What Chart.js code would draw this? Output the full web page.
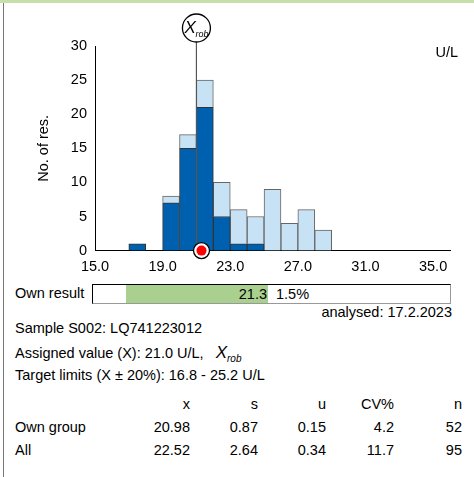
<!DOCTYPE html>
<html><head><meta charset="utf-8">
<script src="https://cdn.jsdelivr.net/npm/chart.js@4"></script>
<style>
body{margin:0;width:474px;height:477px;position:relative;font-family:"Liberation Sans",Arial,sans-serif;font-size:14.5px;color:#000;background:#fff;overflow:hidden}
#top{position:absolute;left:0;top:0;width:474px;height:3px;background:#c8e0a8}
#left{position:absolute;left:3px;top:3px;width:1px;height:474px;background:#777}
#wrap{position:absolute;left:0;top:0;width:474px;height:283px}
.t{position:absolute;white-space:nowrap}
.r{text-align:right}
#box{position:absolute;left:92px;top:284px;width:357px;height:18px;border:1px solid #000;border-right-color:#999;border-bottom-color:#999}
#green{position:absolute;left:33px;top:0;width:142px;height:18px;background:#a9d08e}
</style></head><body>
<div id="top"></div><div id="left"></div>
<div id="wrap"><canvas id="c" width="474" height="283" style="width:474px;height:283px"></canvas></div>
<div class="t" style="left:15px;top:285px">Own result</div>
<div id="box"><div id="green"></div>
<div class="t r" style="right:183px;top:1px;width:60px">21.3</div>
<div class="t" style="left:183px;top:1px">1.5%</div></div>
<div class="t r" style="right:22px;top:304px">analysed: 17.2.2023</div>
<div class="t" style="left:15px;top:320px">Sample S002: LQ741223012</div>
<div class="t" style="left:15px;top:343px">Assigned value (X): 21.0 U/L, &nbsp;&nbsp;<i style="font-size:17px">X</i><i style="font-size:10px;position:relative;top:4px">rob</i></div>
<div class="t" style="left:15px;top:367px">Target limits (X ± 20%): 16.8 - 25.2 U/L</div>
<div id="tbl"></div>
<script>
const binCenters = [17.5, 18.5, 19.5, 20.5, 21.5, 22.5, 23.5, 24.5, 25.5, 26.5, 27.5, 28.5];
const ownGroup   = [1, 0, 7, 15, 21, 5, 1, 1, 0, 0, 0, 0];
const allResults = [1, 0, 8, 17, 25, 10, 6, 5, 9, 4, 6, 3];
const xTicks = [15, 19, 23, 27, 31, 35];
const assignedValue = 21.0;
const ownResult = 21.3;
const statCols = ['x', 's', 'u', 'CV%', 'n'];
const statRows = [
  ['Own group', '20.98', '0.87', '0.15', '4.2', '52'],
  ['All', '22.52', '2.64', '0.34', '11.7', '95']
];

// stats table
const colRight = [190, 258, 326, 394, 462];
let html = '';
statCols.forEach((c, i) => html += `<div class="t r" style="right:${474 - colRight[i]}px;top:396px">${c}</div>`);
statRows.forEach((row, j) => {
  const top = 419 + j * 23;
  html += `<div class="t" style="left:15px;top:${top}px">${row[0]}</div>`;
  row.slice(1).forEach((v, i) => html += `<div class="t r" style="right:${474 - colRight[i]}px;top:${top}px">${v}</div>`);
});
document.getElementById('tbl').innerHTML = html;

const markers = {
  id: 'markers',
  afterDatasetsDraw(chart) {
    const ctx = chart.ctx, xs = chart.scales.x, ys = chart.scales.y;
    const ax = xs.getPixelForValue(assignedValue);
    const y0 = ys.getPixelForValue(0);
    ctx.save();
    ctx.strokeStyle = '#555'; ctx.lineWidth = 1.2;
    ctx.beginPath(); ctx.moveTo(ax, 42); ctx.lineTo(ax, y0); ctx.stroke();
    ctx.fillStyle = '#fff'; ctx.strokeStyle = '#000'; ctx.lineWidth = 1.3;
    ctx.beginPath(); ctx.arc(ax, 28, 14, 0, 2 * Math.PI); ctx.fill(); ctx.stroke();
    ctx.fillStyle = '#000';
    ctx.font = 'italic 17px "Liberation Sans", Arial';
    ctx.textAlign = 'left'; ctx.textBaseline = 'alphabetic';
    ctx.fillText('X', ax - 12, 33);
    ctx.font = 'italic 9px "Liberation Sans", Arial';
    ctx.fillText('rob', ax - 1, 37);
    const ox = xs.getPixelForValue(ownResult);
    ctx.fillStyle = '#fff';
    ctx.beginPath(); ctx.arc(ox, y0, 8, 0, 2 * Math.PI); ctx.fill(); ctx.stroke();
    ctx.fillStyle = '#f00';
    ctx.beginPath(); ctx.arc(ox, y0, 5, 0, 2 * Math.PI); ctx.fill();
    ctx.fillStyle = '#000';
    ctx.font = '14.5px "Liberation Sans", Arial';
    ctx.textAlign = 'right';
    ctx.fillText('U/L', 458, 57);
    ctx.restore();
  }
};

new Chart(document.getElementById('c'), {
  type: 'bar',
  data: {
    datasets: [{
      label: 'Own group',
      data: binCenters.map((x, i) => ({x, y: ownGroup[i]})),
      backgroundColor: '#0060b0', borderColor: '#333', borderWidth: 1,
      barPercentage: 1, categoryPercentage: 1
    }, {
      label: 'All',
      data: binCenters.map((x, i) => ({x, y: allResults[i] - ownGroup[i]})),
      backgroundColor: '#c7e2f4', borderColor: '#666', borderWidth: 1,
      barPercentage: 1, categoryPercentage: 1
    }]
  },
  options: {
    responsive: false, animation: false,
    devicePixelRatio: 1,
    layout: {padding: {left: 35, right: 24, top: 46, bottom: 4}},
    plugins: {legend: {display: false}, tooltip: {enabled: false}},
    scales: {
      x: {
        type: 'linear', stacked: true, min: 15, max: 36, offset: false,
        grid: {display: false, drawTicks: true, tickLength: 5, tickColor: '#000'},
        border: {color: '#000'},
        afterBuildTicks: s => { s.ticks = xTicks.map(v => ({value: v})); },
        ticks: {color: '#000', font: {size: 14.5, family: '"Liberation Sans", Arial'}, maxRotation: 0,
          callback: v => v.toFixed(1)}
      },
      y: {
        stacked: true, min: 0, max: 30,
        afterFit: s => { s.width = 60; },
        grid: {display: false, drawTicks: true, tickLength: 5, tickColor: '#000'},
        border: {color: '#000'},
        title: {display: true, text: 'No. of res.', color: '#000', font: {size: 14.5, family: '"Liberation Sans", Arial'}, padding: {top: 0, bottom: 0}},
        ticks: {stepSize: 5, color: '#000', padding: 3, font: {size: 14.5, family: '"Liberation Sans", Arial'}}
      }
    }
  },
  plugins: [markers]
});
</script>
</body></html>
